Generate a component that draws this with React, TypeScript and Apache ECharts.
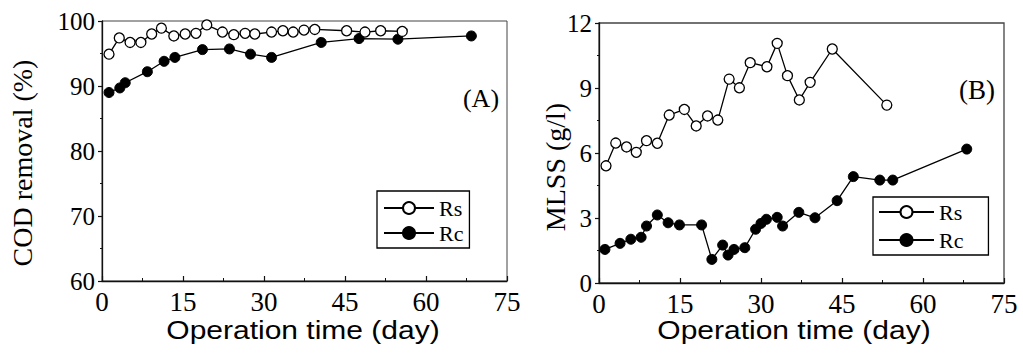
import React, { useEffect, useRef } from "react";
import * as echarts from "echarts";

// Panel A: COD removal (%)
const codDaysRs = [1.3, 3.2, 5.2, 7.2, 9.2, 11.0, 13.3, 15.4, 17.4, 19.4, 22.3, 24.4, 26.5, 28.3, 31.4, 33.5, 35.4, 37.4, 39.4, 45.3, 48.7, 51.6, 55.6];
const codRs = [94.9, 97.4, 96.7, 96.7, 98.0, 98.9, 97.7, 98.0, 98.1, 99.4, 98.3, 97.9, 98.1, 98.0, 98.3, 98.5, 98.3, 98.6, 98.7, 98.5, 98.3, 98.5, 98.4];
const codDaysRc = [1.3, 3.3, 4.3, 8.4, 11.5, 13.5, 18.6, 23.6, 27.5, 31.4, 40.6, 47.6, 54.8, 68.4];
const codRc = [89.0, 89.7, 90.5, 92.2, 93.8, 94.4, 95.6, 95.7, 94.9, 94.4, 96.7, 97.3, 97.2, 97.7];

// Panel B: MLSS (g/l)
const mlssDaysRs = [1.3, 3.1, 5.1, 6.9, 8.8, 10.8, 13.0, 15.8, 18.0, 20.1, 22.0, 24.1, 26.0, 28.0, 31.1, 33.0, 34.9, 37.1, 39.1, 43.2, 53.3];
const mlssRs = [5.41, 6.46, 6.28, 6.03, 6.57, 6.45, 7.75, 8.01, 7.25, 7.71, 7.52, 9.41, 9.01, 10.17, 9.98, 11.06, 9.57, 8.45, 9.26, 10.8, 8.21];
const mlssDaysRc = [1.1, 3.9, 5.9, 7.8, 8.8, 10.8, 12.8, 14.9, 19.0, 20.9, 22.9, 23.9, 25.0, 27.0, 29.0, 30.0, 31.0, 33.0, 34.0, 37.0, 40.0, 44.1, 47.1, 52.0, 54.4, 68.1];
const mlssRc = [1.55, 1.83, 2.02, 2.11, 2.63, 3.14, 2.78, 2.68, 2.68, 1.09, 1.75, 1.29, 1.55, 1.63, 2.48, 2.75, 2.94, 3.03, 2.63, 3.26, 3.01, 3.80, 4.91, 4.75, 4.75, 6.18];

const seriesNames = ["Rs", "Rc"];
const xTitle = "Operation time (day)";
const yTitleA = "COD removal (%)";
const yTitleB = "MLSS (g/l)";
const panelLabels = ["(A)", "(B)"];

const SERIF = "'Liberation Serif', 'Times New Roman', serif";
const SANS = "'Liberation Sans', Arial, sans-serif";

const pairs = (xs: number[], ys: number[]) => xs.map((x, i) => [x, ys[i]]);

function xAxis(gridIndex: number) {
  return {
    type: "value",
    gridIndex,
    min: 0,
    max: 75,
    interval: 15,
    axisLine: { show: true, lineStyle: { color: "#111", width: 1.3 } },
    axisTick: { show: true, inside: true, length: 5, lineStyle: { color: "#111", width: 1.2 } },
    minorTick: { show: true, splitNumber: 2, length: 3, lineStyle: { color: "#111", width: 1 } },
    axisLabel: { color: "#000", fontSize: 27, fontFamily: SERIF, margin: 7 },
    splitLine: { show: false },
  };
}

function yAxis(gridIndex: number, min: number, max: number, interval: number) {
  return {
    type: "value",
    gridIndex,
    min,
    max,
    interval,
    axisLine: { show: true, lineStyle: { color: "#111", width: 1.3 } },
    axisTick: { show: true, inside: false, length: 4, lineStyle: { color: "#111", width: 1.2 } },
    minorTick: { show: true, splitNumber: 2, length: 2, lineStyle: { color: "#111", width: 1 } },
    axisLabel: { color: "#000", fontSize: 25, fontFamily: SERIF, margin: 7 },
    splitLine: { show: false },
  };
}

function lineSeries(name: string, xi: number, data: number[][], open: boolean) {
  return {
    name,
    type: "line",
    xAxisIndex: xi,
    yAxisIndex: xi,
    data,
    symbol: "circle",
    symbolSize: 10,
    showSymbol: true,
    itemStyle: open
      ? { color: "#fff", borderColor: "#000", borderWidth: 1.3 }
      : { color: "#000", borderColor: "#000", borderWidth: 1 },
    lineStyle: { color: "#000", width: 1.3 },
    z: open ? 3 : 2,
  };
}

export default function App() {
  const ref = useRef<HTMLDivElement>(null);

  useEffect(() => {
    if (!ref.current) return;
    const chart = echarts.init(ref.current, undefined, { renderer: "svg" });
    const legendText = { color: "#000", fontSize: 22, fontFamily: SERIF };
    chart.setOption({
      animation: false,
      backgroundColor: "#fff",
      grid: [
        { left: 102, top: 21, width: 405, height: 260, show: true, borderColor: "#444", borderWidth: 1, backgroundColor: "transparent" },
        { left: 599, top: 23, width: 405, height: 260, show: true, borderColor: "#444", borderWidth: 1.3, backgroundColor: "transparent" },
      ],
      xAxis: [xAxis(0), xAxis(1)],
      yAxis: [yAxis(0, 60, 100, 10), yAxis(1, 0, 12, 3)],
      legend: [
        {
          orient: "vertical",
          left: 377,
          top: 191,
          padding: [6, 6, 4, 6],
          itemWidth: 50,
          itemHeight: 15,
          itemGap: 3,
          borderColor: "#000",
          borderWidth: 1.3,
          selectedMode: false,
          data: seriesNames,
          textStyle: legendText,
        },
        {
          orient: "vertical",
          left: 873,
          top: 197,
          padding: [4, 25, 4, 5],
          itemWidth: 55,
          itemHeight: 15,
          itemGap: 6,
          borderColor: "#000",
          borderWidth: 1.3,
          selectedMode: false,
          data: seriesNames,
          textStyle: legendText,
        },
      ],
      series: [
        lineSeries(seriesNames[0], 0, pairs(codDaysRs, codRs), true),
        lineSeries(seriesNames[1], 0, pairs(codDaysRc, codRc), false),
        lineSeries(seriesNames[0], 1, pairs(mlssDaysRs, mlssRs), true),
        lineSeries(seriesNames[1], 1, pairs(mlssDaysRc, mlssRc), false),
      ],
      graphic: [
        {
          type: "text",
          x: 22,
          y: 163,
          rotation: Math.PI / 2,
          style: { text: yTitleA, fontSize: 28, fontFamily: SERIF, fill: "#000", align: "center", verticalAlign: "middle" },
        },
        {
          type: "text",
          x: 555,
          y: 167,
          rotation: Math.PI / 2,
          style: { text: yTitleB, fontSize: 28, fontFamily: SERIF, fill: "#000", align: "center", verticalAlign: "middle" },
        },
        {
          type: "text",
          x: 303,
          y: 330,
          scaleX: 1.2,
          style: { text: xTitle, fontSize: 25, fontFamily: SANS, fill: "#000", align: "center", verticalAlign: "middle" },
        },
        {
          type: "text",
          x: 794,
          y: 330,
          scaleX: 1.2,
          style: { text: xTitle, fontSize: 25, fontFamily: SANS, fill: "#000", align: "center", verticalAlign: "middle" },
        },
        {
          type: "text",
          x: 481,
          y: 98,
          style: { text: panelLabels[0], fontSize: 26, fontFamily: SERIF, fill: "#000", align: "center", verticalAlign: "middle" },
        },
        {
          type: "text",
          x: 977,
          y: 90,
          style: { text: panelLabels[1], fontSize: 27, fontFamily: SERIF, fill: "#000", align: "center", verticalAlign: "middle" },
        },
      ],
    });
    return () => chart.dispose();
  }, []);

  return (
    <div
      ref={ref}
      style={{ position: "fixed", left: 0, top: 0, width: 1023, height: 358, background: "#fff" }}
    />
  );
}
